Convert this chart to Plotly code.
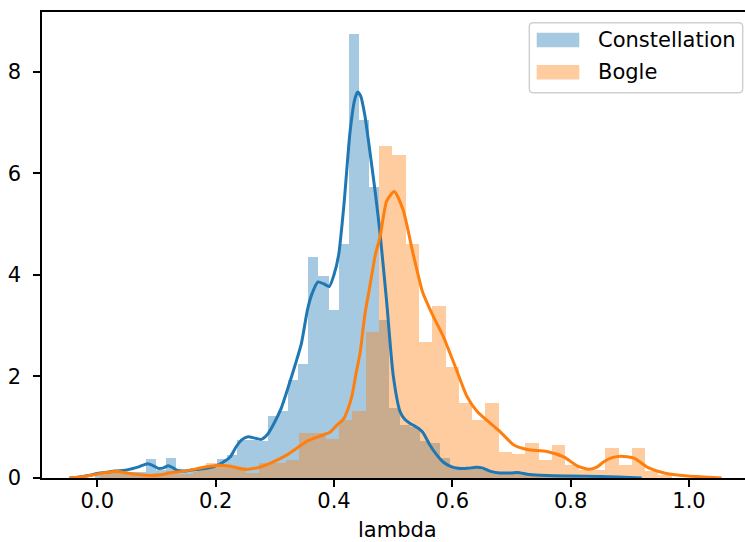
import plotly.graph_objects as go

# ---------------- data ----------------
# Histogram bins (uniform) and bar heights (density)
blue_bin_start = -0.0033
blue_bin_width = 0.01714
blue_heights = [0.05, 0.10, 0.10, 0.12, 0.12, 0.38, 0.15, 0.40, 0.15, 0.12,
                0.15, 0.20, 0.37, 0.45, 0.75, 0.75, 0.73, 1.23, 1.31, 1.93,
                2.25, 4.35, 3.97, 3.30, 4.60, 8.74, 7.04, 5.73, 3.11, 1.37,
                1.05, 1.01, 0.72, 0.69, 0.40, 0.22, 0.20, 0.17, 0.15, 0.12,
                0.10, 0.08, 0.10, 0.06, 0.05, 0.03, 0.03, 0.02, 0.00, 0.02]

orange_bin_start = 0.0038
orange_bin_width = 0.02249
orange_heights = [0.10, 0.18, 0.10, 0.05, 0.10, 0.13, 0.08, 0.15, 0.29, 0.24,
                  0.22, 0.10, 0.29, 0.29, 0.35, 0.89, 0.89, 0.76, 1.14, 1.31,
                  2.87, 6.53, 6.36, 4.60, 2.67, 3.38, 2.19, 1.48, 1.14, 1.48,
                  0.52, 0.47, 0.68, 0.35, 0.64, 0.26, 0.16, 0.16, 0.60, 0.26,
                  0.60, 0.14, 0.05]

# KDE curves
blue_kde_x = [-0.047, -0.03, -0.01, 0.0, 0.02, 0.05, 0.07, 0.085, 0.095, 0.103,
              0.112, 0.12, 0.128, 0.135, 0.15, 0.165, 0.185, 0.205, 0.215, 0.225,
              0.235, 0.245, 0.255, 0.265, 0.277, 0.287, 0.297, 0.31, 0.323, 0.335,
              0.345, 0.355, 0.362, 0.373, 0.383, 0.392, 0.40, 0.408, 0.417, 0.427,
              0.435, 0.44, 0.445, 0.452, 0.461, 0.47, 0.478, 0.489, 0.50, 0.5116,
              0.52, 0.528, 0.5425, 0.55, 0.562, 0.574, 0.585, 0.597, 0.61, 0.625,
              0.64, 0.65, 0.665, 0.68, 0.70, 0.71, 0.73, 0.76, 0.80, 0.85,
              0.88, 0.92]
blue_kde_y = [0.0, 0.02, 0.06, 0.09, 0.12, 0.16, 0.22, 0.28, 0.24, 0.19,
              0.20, 0.24, 0.20, 0.15, 0.14, 0.16, 0.19, 0.26, 0.33, 0.42,
              0.62, 0.76, 0.81, 0.79, 0.76, 0.85, 1.04, 1.35, 1.80, 2.25,
              2.65, 3.30, 3.60, 3.86, 3.82, 3.77, 4.00, 4.40, 5.40, 6.80,
              7.45, 7.60, 7.52, 7.15, 6.40, 5.60, 4.80, 3.47, 2.03, 1.31,
              1.15, 1.08, 0.98, 0.90, 0.65, 0.45, 0.31, 0.23, 0.19, 0.19,
              0.21, 0.20, 0.13, 0.10, 0.10, 0.11, 0.07, 0.05, 0.04, 0.03,
              0.02, 0.0]

orange_kde_x = [-0.047, -0.03, -0.008, 0.015, 0.034, 0.05, 0.07, 0.094, 0.11, 0.122,
                0.15, 0.184, 0.207, 0.225, 0.249, 0.27, 0.292, 0.32, 0.354, 0.375,
                0.393, 0.405, 0.416, 0.424, 0.43, 0.438, 0.444, 0.452, 0.461, 0.47,
                0.478, 0.489, 0.502, 0.517, 0.534, 0.55, 0.567, 0.585, 0.605, 0.625,
                0.642, 0.664, 0.681, 0.704, 0.727, 0.76, 0.789, 0.811, 0.831, 0.845,
                0.856, 0.87, 0.885, 0.907, 0.93, 0.958, 0.998, 1.025, 1.055]
orange_kde_y = [0.0, 0.02, 0.06, 0.11, 0.13, 0.10, 0.07, 0.05, 0.07, 0.10,
                0.14, 0.22, 0.25, 0.23, 0.17, 0.20, 0.29, 0.45, 0.72, 0.82,
                0.90, 1.04, 1.16, 1.37, 1.60, 2.10, 2.45, 3.20, 3.80, 4.40,
                4.75, 5.45, 5.64, 5.27, 4.40, 3.65, 3.20, 2.78, 2.19, 1.60,
                1.31, 1.08, 0.91, 0.65, 0.56, 0.52, 0.41, 0.24, 0.17, 0.22,
                0.32, 0.40, 0.43, 0.39, 0.21, 0.10, 0.04, 0.02, 0.0]

series_names = ["Constellation", "Bogle"]
x_tick_vals = [0.0, 0.2, 0.4, 0.6, 0.8, 1.0]
x_tick_text = ["0.0", "0.2", "0.4", "0.6", "0.8", "1.0"]
y_tick_vals = [0, 2, 4, 6, 8]
y_tick_text = ["0", "2", "4", "6", "8"]
x_label = "lambda"

# ---------------- styling ----------------
BLUE = "#1f77b4"
ORANGE = "#ff7f0e"
BLUE_FILL = "rgba(31,119,180,0.4)"
ORANGE_FILL = "rgba(255,127,14,0.4)"
FONT = "DejaVu Sans"
FS = 21

W, H = 745, 542
ML, MR, MT, MB = 42, 0, 12, 64
PW, PH = W - ML - MR, H - MT - MB


def px_x(p):
    return (p - ML) / PW


def px_y(p):
    return (H - MB - p) / PH


def centers(start, width, n):
    return [start + (k + 0.5) * width for k in range(n)]


fig = go.Figure()

# order as in seaborn: blue hist, blue kde, orange hist, orange kde
fig.add_trace(go.Bar(
    x=centers(blue_bin_start, blue_bin_width, len(blue_heights)),
    y=blue_heights, width=blue_bin_width,
    marker=dict(color=BLUE_FILL, line=dict(width=0)),
    name=series_names[0], showlegend=False, hoverinfo="x+y"))
fig.add_trace(go.Scatter(
    x=blue_kde_x, y=blue_kde_y, mode="lines",
    line=dict(color=BLUE, width=3, shape="spline", smoothing=0.6),
    showlegend=False))
fig.add_trace(go.Bar(
    x=centers(orange_bin_start, orange_bin_width, len(orange_heights)),
    y=orange_heights, width=orange_bin_width,
    marker=dict(color=ORANGE_FILL, line=dict(width=0)),
    name=series_names[1], showlegend=False, hoverinfo="x+y"))
fig.add_trace(go.Scatter(
    x=orange_kde_x, y=orange_kde_y, mode="lines",
    line=dict(color=ORANGE, width=3, shape="spline", smoothing=0.6),
    showlegend=False))

# x range: axes span pixel 42 -> 745 with 0.0 at 97.3 and 591.7 px per unit
x0_px, unit_px = 97.3, 591.7
x_range = [(ML - x0_px) / unit_px, (W - MR - x0_px) / unit_px]
y_range = [0, PH / 50.8]

fig.update_layout(
    width=W, height=H,
    margin=dict(l=ML, r=MR, t=MT, b=MB, pad=0),
    paper_bgcolor="white", plot_bgcolor="white",
    barmode="overlay", bargap=0,
    font=dict(family=FONT, size=FS, color="black"),
    showlegend=False,
    xaxis=dict(range=x_range, tickvals=x_tick_vals, ticktext=x_tick_text,
               showgrid=False, zeroline=False, showline=True, mirror=True,
               linecolor="black", linewidth=1.6, ticks="outside", ticklen=7,
               tickwidth=1.6, tickcolor="black", ticklabelstandoff=-4,
               tickfont=dict(family=FONT, size=FS, color="black")),
    yaxis=dict(range=y_range, tickvals=y_tick_vals, ticktext=y_tick_text,
               showgrid=False, zeroline=False, showline=True, mirror=False,
               linecolor="black", linewidth=1.6, ticks="outside", ticklen=7,
               tickwidth=1.6, tickcolor="black", ticklabelstandoff=8,
               tickfont=dict(family=FONT, size=FS, color="black")),
)

# x-axis label (centred on the full axes, whose right part is cropped)
fig.add_annotation(text=x_label, xref="paper", yref="paper",
                   x=px_x(397.9), y=px_y(530.0), xanchor="center",
                   yanchor="middle", showarrow=False,
                   font=dict(family=FONT, size=FS, color="black"))

# ---------------- legend (matplotlib style) ----------------
bx0, bx1, by0, by1, r = 529.3, 742.7, 22.7, 92.7, 4.0


def rounded_rect_path(x0, y0, x1, y1, rad):
    pts = []
    pts.append(f"M {px_x(x0 + rad)},{px_y(y0)}")
    pts.append(f"L {px_x(x1 - rad)},{px_y(y0)}")
    pts.append(f"Q {px_x(x1)},{px_y(y0)} {px_x(x1)},{px_y(y0 + rad)}")
    pts.append(f"L {px_x(x1)},{px_y(y1 - rad)}")
    pts.append(f"Q {px_x(x1)},{px_y(y1)} {px_x(x1 - rad)},{px_y(y1)}")
    pts.append(f"L {px_x(x0 + rad)},{px_y(y1)}")
    pts.append(f"Q {px_x(x0)},{px_y(y1)} {px_x(x0)},{px_y(y1 - rad)}")
    pts.append(f"L {px_x(x0)},{px_y(y0 + rad)}")
    pts.append(f"Q {px_x(x0)},{px_y(y0)} {px_x(x0 + rad)},{px_y(y0)}")
    pts.append("Z")
    return " ".join(pts)


fig.add_shape(type="path", xref="paper", yref="paper",
              path=rounded_rect_path(bx0, by0, bx1, by1, r),
              fillcolor="rgba(255,255,255,0.8)",
              line=dict(color="#d0d0d0", width=1.5), layer="above")

legend_rows = [(series_names[0], BLUE_FILL, 40.0),
               (series_names[1], ORANGE_FILL, 72.2)]
for name, col, cy in legend_rows:
    fig.add_shape(type="rect", xref="paper", yref="paper",
                  x0=px_x(536.7), x1=px_x(579.3),
                  y0=px_y(cy - 7.3), y1=px_y(cy + 7.3),
                  fillcolor=col, line=dict(width=0), layer="above")
    fig.add_annotation(text=name, xref="paper", yref="paper",
                       x=px_x(595.5), y=px_y(cy), xanchor="left",
                       yanchor="middle", showarrow=False,
                       font=dict(family=FONT, size=FS, color="black"))

fig.write_html("out.html")
